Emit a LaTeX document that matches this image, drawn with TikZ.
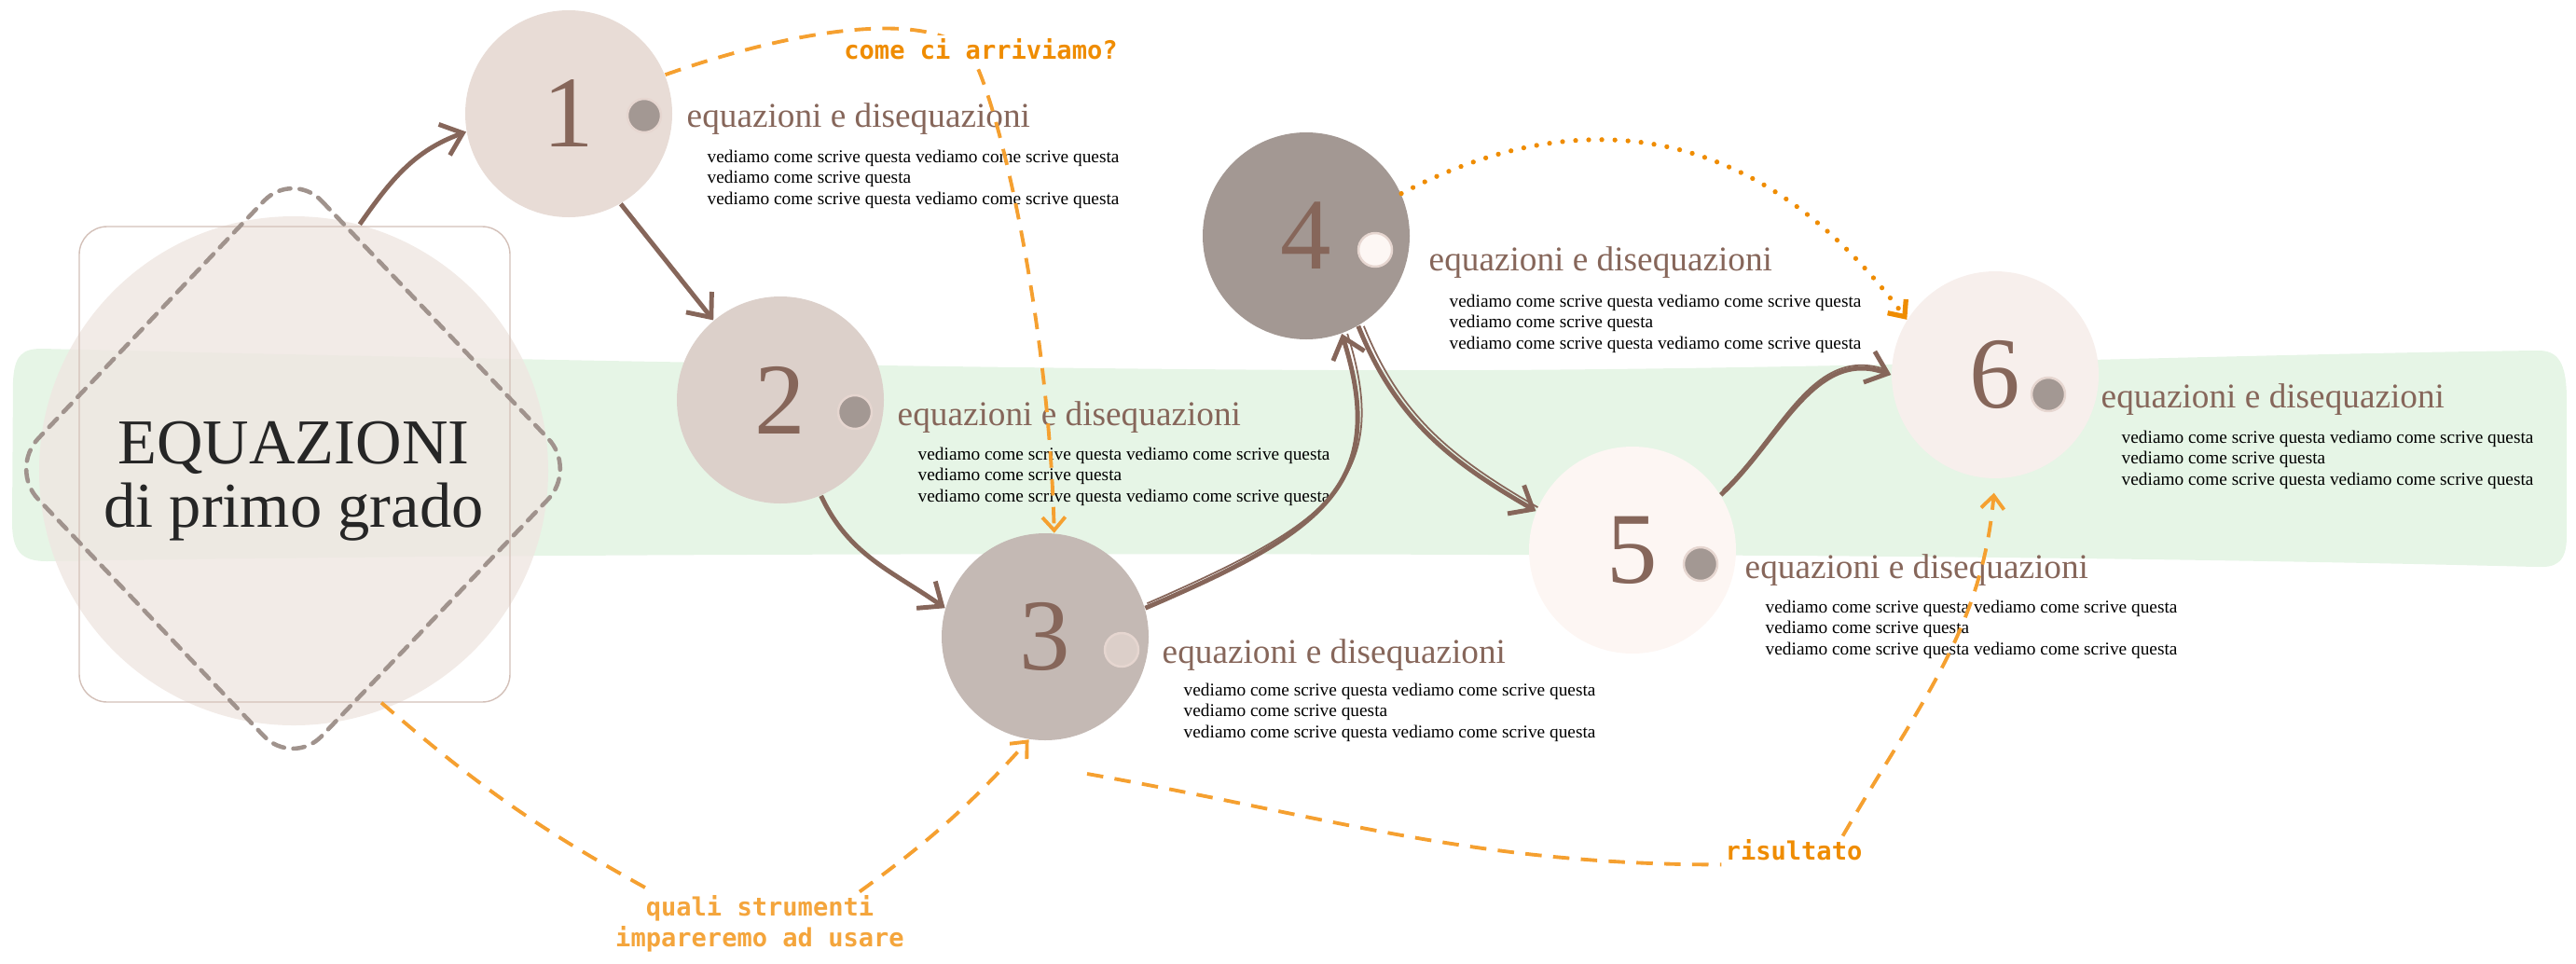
\documentclass[tikz,border=0pt]{standalone}
\usepackage{fontspec}
\setmainfont{Liberation Serif}
\setmonofont{DejaVu Sans Mono}
\usetikzlibrary{arrows.meta}
\definecolor{marrone}{HTML}{86665A}
\definecolor{arancio}{HTML}{F5A030}
\definecolor{aranciotesto}{HTML}{EF8C00}
\definecolor{aranciochiaro}{HTML}{F4A53C}
\definecolor{verde}{HTML}{E6F5E6}
\definecolor{rosa}{HTML}{EFE6E1}
\definecolor{grigio}{HTML}{A39893}
\definecolor{bordino}{HTML}{E6D6D0}
\newcommand{\righe}{vediamo come scrive questa vediamo come scrive questa\\vediamo come scrive questa\\vediamo come scrive questa vediamo come scrive questa}
\tikzset{
  tappa/.style={circle, inner sep=0pt, minimum size=2.22cm, text=marrone, font=\fontsize{31}{31}\selectfont},
  puntino/.style={circle, inner sep=0pt, minimum size=0.36cm, draw=bordino, line width=0.7pt, fill=grigio},
  titoletto/.style={anchor=base west, inner sep=0pt, text=marrone, font=\fontsize{10.6}{12}\selectfont},
  testo/.style={anchor=base west, inner sep=0pt, align=left, font=\fontsize{5.5}{6.4}\selectfont},
  freccia/.style={marrone, line width=1.4pt, -{Straight Barb[length=6pt,width=10pt]}},
  ripasso/.style={marrone, line width=0.5pt},
  tratteggio/.style={arancio, line width=1.1pt, dash pattern=on 5pt off 3.5pt},
  etichetta/.style={text=aranciotesto, inner sep=1pt, font=\fontsize{7.7}{9.4}\selectfont\ttfamily\bfseries},
}
\begin{document}
\begin{tikzpicture}
\useasboundingbox (0,0) rectangle (27.63,-10.33);
% green stroke behind
\fill[verde] (0.45,-3.74) .. controls (5,-3.85) and (12,-3.99) .. (16,-3.97) .. controls (20,-3.95) and (24,-3.80) .. (27.2,-3.76)
  .. controls (27.45,-3.75) and (27.53,-3.9) .. (27.53,-4.3) -- (27.53,-5.75) .. controls (27.53,-6.05) and (27.4,-6.09) .. (27.2,-6.08)
  .. controls (24,-6.0) and (20,-5.95) .. (16,-5.95) .. controls (10,-5.93) and (5,-5.95) .. (0.5,-6.02)
  .. controls (0.22,-6.02) and (0.13,-5.9) .. (0.13,-5.6) -- (0.14,-4.1) .. controls (0.15,-3.8) and (0.25,-3.74) .. cycle;
% title block
\node[circle, fill=rosa, fill opacity=0.8, minimum size=5.46cm, inner sep=0pt] (blob) at (3.15,-5.05) {};
\node[draw=bordino!80!marrone, line width=0.4pt, rounded corners=0.3cm, minimum width=4.62cm, minimum height=5.10cm] (box) at (3.16,-4.98) {};
\draw[grigio!90!marrone, line width=1.3pt, dash pattern=on 3.5pt off 2.8pt, line cap=round, rounded corners=0.45cm]
  (3.14,-1.83) -- (6.19,-5.03) -- (3.14,-8.22) -- (0.10,-5.03) -- cycle;
\node[align=center, text=black!85, font=\fontsize{19.5}{19.5}\selectfont] (title) at (3.15,-5.16) {EQUAZIONI\\di primo grado};
% steps
\node[tappa, fill={rgb,255:red,232;green,220;blue,214}] (c1) at (6.10,-1.22) {1};
\node[puntino] (p1) at (6.91,-1.24) {};
\node[titoletto] (t1) at (7.36,-1.36) {equazioni e disequazioni};
\node[testo] (b1) at (7.58,-2.19) {\righe};

\node[tappa, fill={rgb,255:red,220;green,208;blue,202}] (c2) at (8.37,-4.29) {2};
\node[puntino] (p2) at (9.17,-4.42) {};
\node[titoletto] (t2) at (9.62,-4.56) {equazioni e disequazioni};
\node[testo] (b2) at (9.84,-5.38) {\righe};

\node[tappa, fill={rgb,255:red,196;green,185;blue,180}] (c3) at (11.21,-6.83) {3};
\node[puntino, fill={rgb,255:red,220;green,207;blue,201}] (p3) at (12.03,-6.97) {};
\node[titoletto] (t3) at (12.46,-7.11) {equazioni e disequazioni};
\node[testo] (b3) at (12.69,-7.91) {\righe};

\node[tappa, fill=grigio] (c4) at (14.01,-2.53) {4};
\node[puntino, fill={rgb,255:red,253;green,247;blue,244}] (p4) at (14.75,-2.68) {};
\node[titoletto] (t4) at (15.32,-2.90) {equazioni e disequazioni};
\node[testo] (b4) at (15.54,-3.74) {\righe};

\node[tappa, fill={rgb,255:red,253;green,246;blue,243}] (c5) at (17.51,-5.90) {5};
\node[puntino] (p5) at (18.24,-6.05) {};
\node[titoletto] (t5) at (18.71,-6.20) {equazioni e disequazioni};
\node[testo] (b5) at (18.93,-7.02) {\righe};

\node[tappa, fill={rgb,255:red,247;green,239;blue,236}] (c6) at (21.40,-4.02) {6};
\node[puntino] (p6) at (21.97,-4.23) {};
\node[titoletto] (t6) at (22.53,-4.37) {equazioni e disequazioni};
\node[testo] (b6) at (22.75,-5.20) {\righe};
% brown path
\draw[freccia] (blob.75) to[out=55,in=200] (c1.190);
\draw[freccia] (c1.300) -- (c2.130);
\draw[freccia] (c2.293) to[out=-65,in=145] (c3.164);
\draw[freccia] (c3.16) .. controls (14.20,-5.70) and (14.90,-5.20) .. (c4.290);
\draw[ripasso] ([shift={(0.02,0.05)}]c3.16) .. controls (14.25,-5.62) and (14.95,-5.15) .. ([shift={(0.06,0)}]c4.290);
\draw[freccia] (c4.300) to[out=-68,in=150] (c5.158);
\draw[ripasso] ([shift={(0.06,0)}]c4.300) to[out=-68,in=150] ([shift={(0.02,0.04)}]c5.158);
\draw[freccia] (c5.32) to[out=43,in=160] (c6.180);
\draw[ripasso] ([shift={(0.02,0.05)}]c5.32) to[out=43,in=160] ([shift={(-0.04,0.05)}]c6.180);
% orange notes
\draw[tratteggio, -{Straight Barb[length=4pt,width=7pt]}] (c1.22) .. controls (8.70,-0.25) and (10.15,-0.10) .. (10.45,-0.65)
  .. controls (10.75,-1.25) and (11.25,-3.50) .. (c3.85);
\node[etichetta, fill=white] (come) at (10.52,-0.53) {come ci arriviamo?};
\draw[aranciotesto, line width=1.5pt, dash pattern=on 0pt off 4pt, line cap=round, -{Straight Barb[length=4pt,width=7pt]}]
  (c4.24) .. controls (16.50,-1.30) and (18.60,-0.95) .. (c6.148);
\node[etichetta, text=aranciochiaro, align=center] (strum) at (8.15,-9.91) {quali strumenti\\impareremo ad usare};
\draw[tratteggio] (box.-70) to[bend right=6] ([xshift=0.44cm]strum.north west);
\draw[tratteggio, -{Straight Barb[length=4pt,width=7pt]}] ([xshift=-0.52cm]strum.north east) to[bend right=6] (c3.261);
\coordinate (r0) at (11.66,-8.30);
\node[etichetta, fill=white] (ris) at (19.24,-9.12) {risultato};
\draw[tratteggio] (r0) to[out=-10,in=180] (ris.south west);
\draw[tratteggio, shorten >=0.15cm, -{Straight Barb[length=4pt,width=7pt]}] ([xshift=-0.25cm]ris.north east) to[out=60,in=-95] (c6.south);
\end{tikzpicture}
\end{document}
